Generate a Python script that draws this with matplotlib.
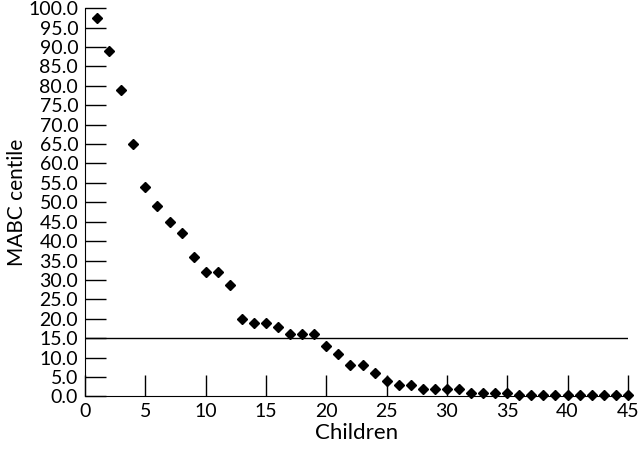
import matplotlib.pyplot as plt
import numpy as np

plt.rcParams['font.family'] = ['Lato', 'DejaVu Sans']

# children ranked 1..45, MABC centile of each
children = np.arange(1, 46)
centile = [97.5, 89, 79, 65, 54, 49, 45, 42, 36, 32,
           32, 28.7, 20, 19, 19, 18, 16, 16, 16, 13,
           11, 8, 8, 6, 4, 3, 3, 2, 2, 2,
           2, 1, 1, 1, 1, 0.5, 0.5, 0.5, 0.5, 0.5,
           0.5, 0.5, 0.5, 0.5, 0.5]
cutoff = 15

fig = plt.figure(figsize=(6.4, 4.49), dpi=100)
ax = fig.add_axes([0.133, 0.117, 0.848, 0.865])

ax.axhline(cutoff, color='black', lw=1)
ax.plot(children, centile, 'kD', ms=5.5, clip_on=False, zorder=3)

ax.set_xlim(0, 45)
ax.set_ylim(0, 100)
ax.set_xticks(np.arange(0, 46, 5))
ax.set_yticks(np.arange(0, 101, 5))
ax.set_yticklabels(['%.1f' % v for v in np.arange(0, 101, 5)])

ax.spines['right'].set_color('none')
ax.spines['top'].set_color('none')
ax.tick_params(direction='in', length=15, width=1, labelsize=14, pad=5)

ax.set_xlabel('Children', fontsize=16, labelpad=2)
ax.set_ylabel('MABC centile', fontsize=15)
ax.yaxis.set_label_coords(-0.108, 0.5)

fig.savefig('out.png', dpi=100)
